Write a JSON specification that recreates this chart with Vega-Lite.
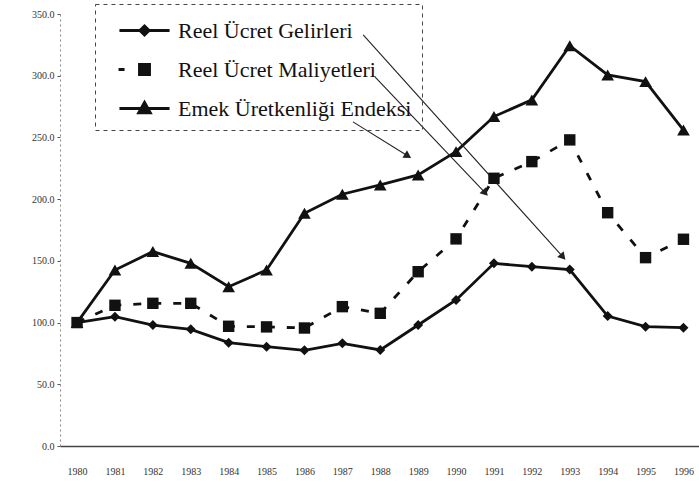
{
  "$schema": "https://vega.github.io/schema/vega-lite/v6.json",
  "width": 639,
  "height": 432,
  "autosize": {"type": "none"},
  "padding": {"left": 60, "top": 14, "right": 0, "bottom": 36},
  "background": "white",
  "config": {
    "view": {"stroke": null},
    "font": "Liberation Serif",
    "legend": {"strokeColor": "#444", "strokeDash": [4, 4], "strokeWidth": 1},
    "axisX": {"format": "d", "grid": false, "ticks": false, "labelOverlap": false, "labelPadding": 20, "labelFont": "Liberation Serif", "labelFontSize": 10, "labelColor": "#333", "domainColor": "#444", "domainWidth": 1.5},
    "axisY": {"format": ".1f", "grid": false, "tickSize": 3, "tickColor": "#555", "labelPadding": 3, "labelFont": "Liberation Serif", "labelFontSize": 10, "labelColor": "#333", "domainColor": "#888", "domainDash": [2, 3]}
  },
  "datasets": {
    "series": [
      {"year": 1980, "series": "Reel Ücret Gelirleri", "value": 100},
      {"year": 1981, "series": "Reel Ücret Gelirleri", "value": 104.8},
      {"year": 1982, "series": "Reel Ücret Gelirleri", "value": 98},
      {"year": 1983, "series": "Reel Ücret Gelirleri", "value": 94.5},
      {"year": 1984, "series": "Reel Ücret Gelirleri", "value": 83.7},
      {"year": 1985, "series": "Reel Ücret Gelirleri", "value": 80.5},
      {"year": 1986, "series": "Reel Ücret Gelirleri", "value": 77.5},
      {"year": 1987, "series": "Reel Ücret Gelirleri", "value": 83.2},
      {"year": 1988, "series": "Reel Ücret Gelirleri", "value": 77.8},
      {"year": 1989, "series": "Reel Ücret Gelirleri", "value": 98},
      {"year": 1990, "series": "Reel Ücret Gelirleri", "value": 118.3},
      {"year": 1991, "series": "Reel Ücret Gelirleri", "value": 148},
      {"year": 1992, "series": "Reel Ücret Gelirleri", "value": 145.3},
      {"year": 1993, "series": "Reel Ücret Gelirleri", "value": 143},
      {"year": 1994, "series": "Reel Ücret Gelirleri", "value": 105.3},
      {"year": 1995, "series": "Reel Ücret Gelirleri", "value": 96.7},
      {"year": 1996, "series": "Reel Ücret Gelirleri", "value": 95.9},
      {"year": 1980, "series": "Reel Ücret Maliyetleri", "value": 100},
      {"year": 1981, "series": "Reel Ücret Maliyetleri", "value": 114},
      {"year": 1982, "series": "Reel Ücret Maliyetleri", "value": 115.6},
      {"year": 1983, "series": "Reel Ücret Maliyetleri", "value": 115.6},
      {"year": 1984, "series": "Reel Ücret Maliyetleri", "value": 97},
      {"year": 1985, "series": "Reel Ücret Maliyetleri", "value": 96.5},
      {"year": 1986, "series": "Reel Ücret Maliyetleri", "value": 95.6},
      {"year": 1987, "series": "Reel Ücret Maliyetleri", "value": 112.9},
      {"year": 1988, "series": "Reel Ücret Maliyetleri", "value": 107.5},
      {"year": 1989, "series": "Reel Ücret Maliyetleri", "value": 141.2},
      {"year": 1990, "series": "Reel Ücret Maliyetleri", "value": 167.8},
      {"year": 1991, "series": "Reel Ücret Maliyetleri", "value": 216.9},
      {"year": 1992, "series": "Reel Ücret Maliyetleri", "value": 230.4},
      {"year": 1993, "series": "Reel Ücret Maliyetleri", "value": 248},
      {"year": 1994, "series": "Reel Ücret Maliyetleri", "value": 189},
      {"year": 1995, "series": "Reel Ücret Maliyetleri", "value": 152.6},
      {"year": 1996, "series": "Reel Ücret Maliyetleri", "value": 167.5},
      {"year": 1980, "series": "Emek Üretkenliği Endeksi", "value": 100},
      {"year": 1981, "series": "Emek Üretkenliği Endeksi", "value": 142.6},
      {"year": 1982, "series": "Emek Üretkenliği Endeksi", "value": 157.5},
      {"year": 1983, "series": "Emek Üretkenliği Endeksi", "value": 148},
      {"year": 1984, "series": "Emek Üretkenliği Endeksi", "value": 129},
      {"year": 1985, "series": "Emek Üretkenliği Endeksi", "value": 142.6},
      {"year": 1986, "series": "Emek Üretkenliği Endeksi", "value": 188.6},
      {"year": 1987, "series": "Emek Üretkenliği Endeksi", "value": 204},
      {"year": 1988, "series": "Emek Üretkenliği Endeksi", "value": 211.5},
      {"year": 1989, "series": "Emek Üretkenliği Endeksi", "value": 219.6},
      {"year": 1990, "series": "Emek Üretkenliği Endeksi", "value": 238.5},
      {"year": 1991, "series": "Emek Üretkenliği Endeksi", "value": 266.9},
      {"year": 1992, "series": "Emek Üretkenliği Endeksi", "value": 280.4},
      {"year": 1993, "series": "Emek Üretkenliği Endeksi", "value": 324.3},
      {"year": 1994, "series": "Emek Üretkenliği Endeksi", "value": 300.6},
      {"year": 1995, "series": "Emek Üretkenliği Endeksi", "value": 295.2},
      {"year": 1996, "series": "Emek Üretkenliği Endeksi", "value": 256}
    ],
    "arrows": [
      {"label": "Reel Ücret Gelirleri", "x0": 1987.55, "y0": 333.1, "x1": 1992.82, "y1": 153.2, "angle": 138},
      {"label": "Reel Ücret Maliyetleri", "x0": 1987.86, "y0": 299.0, "x1": 1990.77, "y1": 205.0, "angle": 136.5},
      {"label": "Emek Üretkenliği Endeksi", "x0": 1987.28, "y0": 262.6, "x1": 1988.73, "y1": 235.0, "angle": 121.7}
    ]
  },
  "layer": [
    {
      "data": {"name": "series"},
      "transform": [{"filter": "datum.series != 'Reel Ücret Maliyetleri'"}],
      "mark": {"type": "line", "color": "#111", "strokeWidth": 2.8},
      "encoding": {
        "x": {"field": "year", "type": "quantitative", "title": null, "scale": {"domain": [1979.55, 1996.41], "nice": false, "zero": false}, "axis": {"values": [1980,1981,1982,1983,1984,1985,1986,1987,1988,1989,1990,1991,1992,1993,1994,1995,1996], "labelOverlap": false, "tickCount": 17}},
        "y": {"field": "value", "type": "quantitative", "title": null, "scale": {"domain": [0, 350], "nice": false}, "axis": {"values": [0,50,100,150,200,250,300,350]}},
        "detail": {"field": "series", "type": "nominal"}
      }
    },
    {
      "data": {"name": "series"},
      "transform": [{"filter": "datum.series == 'Reel Ücret Maliyetleri'"}],
      "mark": {"type": "line", "color": "#111", "strokeWidth": 2.8, "strokeDash": [8, 12]},
      "encoding": {
        "x": {"field": "year", "type": "quantitative", "title": null, "axis": {"values": [1980,1981,1982,1983,1984,1985,1986,1987,1988,1989,1990,1991,1992,1993,1994,1995,1996], "labelOverlap": false, "tickCount": 17}},
        "y": {"field": "value", "type": "quantitative", "title": null, "axis": {"values": [0,50,100,150,200,250,300,350]}}
      }
    },
    {
      "data": {"name": "arrows"},
      "mark": {"type": "rule", "color": "#222", "strokeWidth": 1.1},
      "encoding": {
        "x": {"field": "x0", "type": "quantitative", "title": null, "axis": {"values": [1980,1981,1982,1983,1984,1985,1986,1987,1988,1989,1990,1991,1992,1993,1994,1995,1996], "labelOverlap": false, "tickCount": 17}},
        "y": {"field": "y0", "type": "quantitative", "title": null, "axis": {"values": [0,50,100,150,200,250,300,350]}},
        "x2": {"field": "x1"},
        "y2": {"field": "y1"}
      }
    },
    {
      "data": {"name": "arrows"},
      "mark": {"type": "point", "shape": "triangle-up", "filled": true, "color": "#222", "size": 75, "opacity": 1},
      "encoding": {
        "x": {"field": "x1", "type": "quantitative", "title": null, "axis": {"values": [1980,1981,1982,1983,1984,1985,1986,1987,1988,1989,1990,1991,1992,1993,1994,1995,1996], "labelOverlap": false, "tickCount": 17}},
        "y": {"field": "y1", "type": "quantitative", "title": null, "axis": {"values": [0,50,100,150,200,250,300,350]}},
        "angle": {"field": "angle", "type": "quantitative", "scale": {"domain": [0, 360], "range": [0, 360]}}
      }
    },
    {
      "data": {"name": "series"},
      "mark": {"type": "point", "filled": true, "color": "#111", "opacity": 1},
      "encoding": {
        "x": {"field": "year", "type": "quantitative", "title": null, "axis": {"values": [1980,1981,1982,1983,1984,1985,1986,1987,1988,1989,1990,1991,1992,1993,1994,1995,1996], "labelOverlap": false, "tickCount": 17}},
        "y": {"field": "value", "type": "quantitative", "title": null, "axis": {"values": [0,50,100,150,200,250,300,350]}},
        "shape": {"field": "series", "type": "nominal", "legend": null, "scale": {"domain": ["Reel Ücret Gelirleri", "Reel Ücret Maliyetleri", "Emek Üretkenliği Endeksi"], "range": ["diamond", "square", "triangle-up"]}},
        "size": {"field": "series", "type": "ordinal", "legend": null, "scale": {"domain": ["Reel Ücret Gelirleri", "Reel Ücret Maliyetleri", "Emek Üretkenliği Endeksi"], "range": [100, 160, 150]}}
      }
    },
    {
      "data": {"name": "series"},
      "transform": [{"filter": "datum.value < 0"}],
      "mark": {"type": "point", "filled": false, "color": "#111", "strokeWidth": 3, "opacity": 1},
      "encoding": {
        "shape": {
          "field": "series", "type": "nominal",
          "scale": {"domain": ["Reel Ücret Gelirleri", "Reel Ücret Maliyetleri", "Emek Üretkenliği Endeksi"], "range": [
            "M-1.67,0H1.67M0,-0.3L0.3,0L0,0.3L-0.3,0ZM0,-0.3V0.3",
            "M-1.73,0H-1.33M-0.33,-0.33H0.33V0.33H-0.33ZM-0.33,-0.15H0.33M-0.33,0H0.33M-0.33,0.15H0.33",
            "M-1.67,0H1.67M0,-0.4L0.38,0.28H-0.38ZM0,-0.3V0.28M-0.2,0.12H0.2"
          ]},
          "legend": {
            "title": null,
            "orient": "none",
            "legendX": 35,
            "legendY": -10,
            "padding": 10,
            "symbolSize": 900,
            "symbolOffset": 23,
            "symbolStrokeWidth": 3,
            "symbolStrokeColor": "#111",
            "rowPadding": 11,
            "labelOffset": 17,
            "labelFont": "Liberation Serif",
            "labelFontSize": 22,
            "labelColor": "#111",
            "labelLimit": 0,
            "strokeColor": "#444",
            "encode": {
              "symbols": {
                "stroke": {"value": "#111"},
                "strokeWidth": {"value": 3},
                "opacity": {"value": 1}
              }
            }
          }
        }
      }
    }
  ],
  "resolve": {"scale": {"shape": "independent", "size": "independent"}}
}
